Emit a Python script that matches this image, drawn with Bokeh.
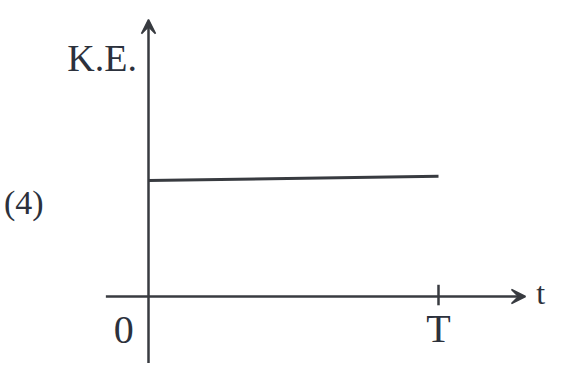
from bokeh.plotting import figure
from bokeh.models import Arrow, VeeHead, Range1d
from bokeh.core.properties import value
from bokeh.embed import file_html
from bokeh.resources import INLINE

# data (t in units of T, K.E. in arbitrary units)
t_vals = [0.0, 1.0]
ke_vals = [0.396, 0.41]
tick_positions = [0.0, 1.0]
tick_labels = ["0", "T"]
x_label = "t"
y_label = "K.E."
panel_label = "(4)"

W, H = 547, 363
sx, sy = 290.0, 293.0   # pixels per data unit
ox, oy = 148, 296       # origin in figure pixels

p = figure(width=W, height=H, output_backend="svg", toolbar_location=None,
           x_range=Range1d(-ox / sx, (W - ox) / sx),
           y_range=Range1d((oy - H) / sy, oy / sy),
           min_border=0, outline_line_color=None)
p.axis.visible = False
p.grid.visible = False
p.background_fill_color = "white"

ink = "#383b40"
txt = "#2c313c"

# axes
p.add_layout(Arrow(end=VeeHead(size=14, fill_color=ink, line_color=ink, line_width=1.5),
                   x_start=-0.147, y_start=0, x_end=1.30, y_end=0,
                   line_color=ink, line_width=2.5))
p.add_layout(Arrow(end=VeeHead(size=14, fill_color=ink, line_color=ink, line_width=1.5),
                   x_start=0, y_start=-0.30, x_end=0, y_end=0.945,
                   line_color=ink, line_width=2.5))

# tick at T
p.segment(x0=[tick_positions[1]], y0=[-0.03], x1=[tick_positions[1]], y1=[0.04],
          line_color=ink, line_width=2.5)

# K.E. curve
p.line(t_vals, ke_vals, line_color=ink, line_width=3)

font = value("Liberation Serif")
# tick labels
p.text(x=[-0.085, tick_positions[1]], y=[-0.114, -0.11], text=tick_labels,
       text_font=font, text_font_size="40px", text_color=txt,
       text_align="center", text_baseline="middle")
p.text(x=[1.352], y=[0.012], text=[x_label], text_font=font, text_font_size="32px",
       text_color=txt, text_align="center", text_baseline="middle")
p.text(x=[-0.160], y=[0.815], text=[y_label], text_font=font, text_font_size="38px",
       text_color=txt, text_align="center", text_baseline="middle")
p.text(x=[-0.43], y=[0.32], text=[panel_label], text_font=font, text_font_size="34px",
       text_color=txt, text_align="center", text_baseline="middle")

open("out.html", "w").write(file_html(p, INLINE))
